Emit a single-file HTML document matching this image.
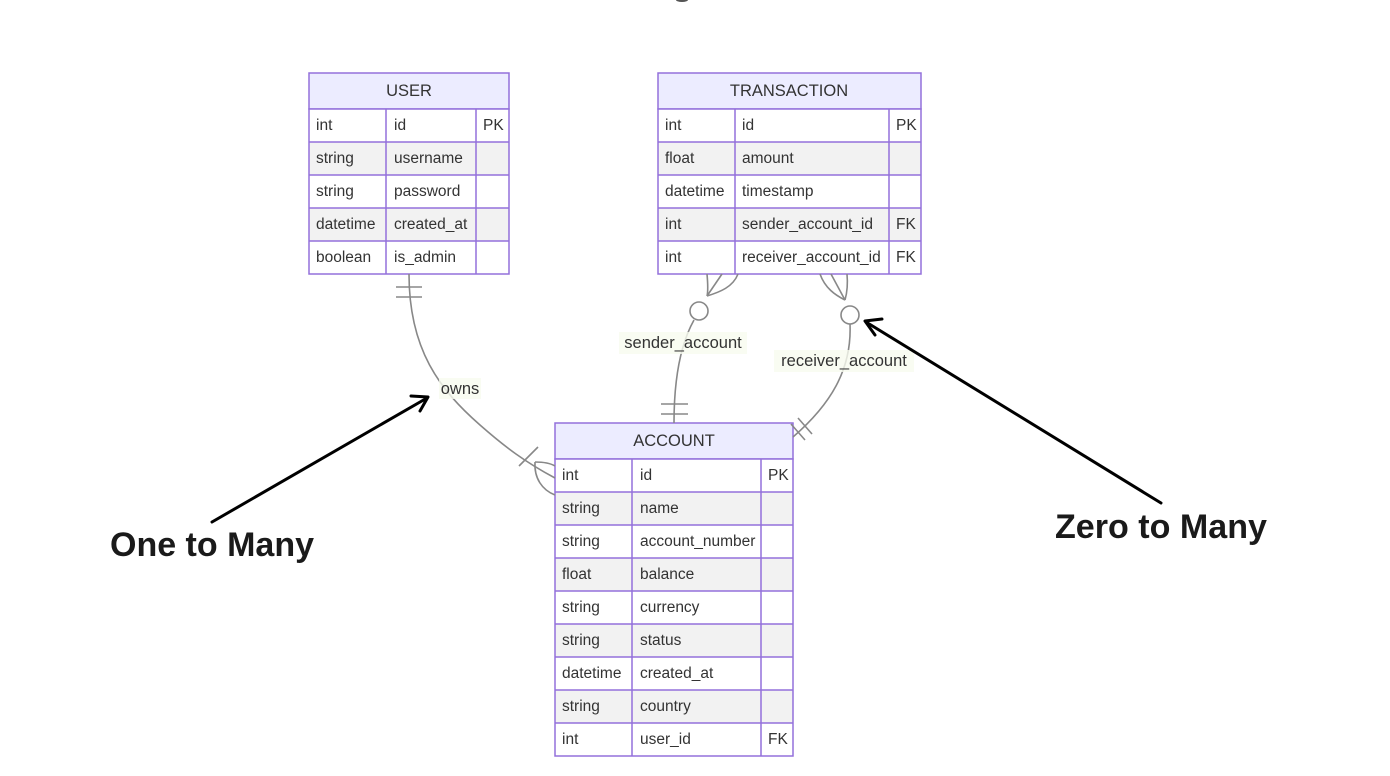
<!DOCTYPE html>
<html><head><meta charset="utf-8"><style>
html,body{margin:0;padding:0;background:#fff;}
svg{display:block;}
.t{font-family:"Liberation Sans","DejaVu Sans",sans-serif;font-size:15.5px;fill:#333;}
.h{font-family:"Liberation Sans","DejaVu Sans",sans-serif;font-size:16.5px;fill:#333;text-anchor:middle;}
.lbl{font-family:"Liberation Sans","DejaVu Sans",sans-serif;font-size:16.5px;fill:#333;text-anchor:middle;}
.big{font-family:"Liberation Sans","DejaVu Sans",sans-serif;font-size:34px;font-weight:bold;fill:#1a1a1a;}
.ln{stroke:#888;stroke-width:1.6;fill:none;}
</style></head><body>
<svg width="1390" height="776" viewBox="0 0 1390 776" xmlns="http://www.w3.org/2000/svg">
<rect width="1390" height="776" fill="#fff"/>
<ellipse cx="682" cy="0" rx="6" ry="2" fill="#555"/>

<!-- USER -->
<g>
<rect x="309" y="73" width="200" height="36" fill="#ececff" stroke="#9370db" stroke-width="1.5"/>
<text class="h" x="409" y="96">USER</text>
<rect x="309" y="109" width="200" height="33" fill="#fff"/>
<rect x="309" y="142" width="200" height="33" fill="#f2f2f2"/>
<rect x="309" y="175" width="200" height="33" fill="#fff"/>
<rect x="309" y="208" width="200" height="33" fill="#f2f2f2"/>
<rect x="309" y="241" width="200" height="33" fill="#fff"/>
<g stroke="#9370db" stroke-width="1.5" fill="none">
<rect x="309" y="109" width="200" height="165"/>
<line x1="309" y1="142" x2="509" y2="142"/><line x1="309" y1="175" x2="509" y2="175"/>
<line x1="309" y1="208" x2="509" y2="208"/><line x1="309" y1="241" x2="509" y2="241"/>
<line x1="386" y1="109" x2="386" y2="274"/><line x1="476" y1="109" x2="476" y2="274"/>
</g>
<text class="t" x="316" y="130">int</text><text class="t" x="394" y="130">id</text><text class="t" x="483" y="130">PK</text>
<text class="t" x="316" y="163">string</text><text class="t" x="394" y="163">username</text>
<text class="t" x="316" y="196">string</text><text class="t" x="394" y="196">password</text>
<text class="t" x="316" y="229">datetime</text><text class="t" x="394" y="229">created_at</text>
<text class="t" x="316" y="262">boolean</text><text class="t" x="394" y="262">is_admin</text>
</g>

<!-- TRANSACTION -->
<g>
<rect x="658" y="73" width="263" height="36" fill="#ececff" stroke="#9370db" stroke-width="1.5"/>
<text class="h" x="789" y="96">TRANSACTION</text>
<rect x="658" y="109" width="263" height="33" fill="#fff"/>
<rect x="658" y="142" width="263" height="33" fill="#f2f2f2"/>
<rect x="658" y="175" width="263" height="33" fill="#fff"/>
<rect x="658" y="208" width="263" height="33" fill="#f2f2f2"/>
<rect x="658" y="241" width="263" height="33" fill="#fff"/>
<g stroke="#9370db" stroke-width="1.5" fill="none">
<rect x="658" y="109" width="263" height="165"/>
<line x1="658" y1="142" x2="921" y2="142"/><line x1="658" y1="175" x2="921" y2="175"/>
<line x1="658" y1="208" x2="921" y2="208"/><line x1="658" y1="241" x2="921" y2="241"/>
<line x1="735" y1="109" x2="735" y2="274"/><line x1="889" y1="109" x2="889" y2="274"/>
</g>
<text class="t" x="665" y="130">int</text><text class="t" x="742" y="130">id</text><text class="t" x="896" y="130">PK</text>
<text class="t" x="665" y="163">float</text><text class="t" x="742" y="163">amount</text>
<text class="t" x="665" y="196">datetime</text><text class="t" x="742" y="196">timestamp</text>
<text class="t" x="665" y="229">int</text><text class="t" x="742" y="229">sender_account_id</text><text class="t" x="896" y="229">FK</text>
<text class="t" x="665" y="262">int</text><text class="t" x="742" y="262">receiver_account_id</text><text class="t" x="896" y="262">FK</text>
</g>

<!-- ACCOUNT -->
<g>
<rect x="555" y="423" width="238" height="36" fill="#ececff" stroke="#9370db" stroke-width="1.5"/>
<text class="h" x="674" y="446">ACCOUNT</text>
<rect x="555" y="459" width="238" height="33" fill="#fff"/>
<rect x="555" y="492" width="238" height="33" fill="#f2f2f2"/>
<rect x="555" y="525" width="238" height="33" fill="#fff"/>
<rect x="555" y="558" width="238" height="33" fill="#f2f2f2"/>
<rect x="555" y="591" width="238" height="33" fill="#fff"/>
<rect x="555" y="624" width="238" height="33" fill="#f2f2f2"/>
<rect x="555" y="657" width="238" height="33" fill="#fff"/>
<rect x="555" y="690" width="238" height="33" fill="#f2f2f2"/>
<rect x="555" y="723" width="238" height="33" fill="#fff"/>
<g stroke="#9370db" stroke-width="1.5" fill="none">
<rect x="555" y="459" width="238" height="297"/>
<line x1="555" y1="492" x2="793" y2="492"/><line x1="555" y1="525" x2="793" y2="525"/>
<line x1="555" y1="558" x2="793" y2="558"/><line x1="555" y1="591" x2="793" y2="591"/>
<line x1="555" y1="624" x2="793" y2="624"/><line x1="555" y1="657" x2="793" y2="657"/>
<line x1="555" y1="690" x2="793" y2="690"/><line x1="555" y1="723" x2="793" y2="723"/>
<line x1="632" y1="459" x2="632" y2="756"/><line x1="761" y1="459" x2="761" y2="756"/>
</g>
<text class="t" x="562" y="480">int</text><text class="t" x="640" y="480">id</text><text class="t" x="768" y="480">PK</text>
<text class="t" x="562" y="513">string</text><text class="t" x="640" y="513">name</text>
<text class="t" x="562" y="546">string</text><text class="t" x="640" y="546">account_number</text>
<text class="t" x="562" y="579">float</text><text class="t" x="640" y="579">balance</text>
<text class="t" x="562" y="612">string</text><text class="t" x="640" y="612">currency</text>
<text class="t" x="562" y="645">string</text><text class="t" x="640" y="645">status</text>
<text class="t" x="562" y="678">datetime</text><text class="t" x="640" y="678">created_at</text>
<text class="t" x="562" y="711">string</text><text class="t" x="640" y="711">country</text>
<text class="t" x="562" y="744">int</text><text class="t" x="640" y="744">user_id</text><text class="t" x="768" y="744">FK</text>
</g>

<!-- owns -->
<path class="ln" d="M409,274 C409,350 440,390 480,425 C505,447 525,462 555,478"/>
<line class="ln" x1="396" y1="287" x2="422" y2="287"/>
<line class="ln" x1="396" y1="297" x2="422" y2="297"/>
<line class="ln" x1="519" y1="466" x2="538" y2="447"/>
<path class="ln" d="M535,462 C542,462 550,463 555,466"/>
<path class="ln" d="M535,462 C534,478 542,490 555,495"/>
<rect x="439" y="378" width="42" height="21" fill="#f8fbef" opacity="0.8"/>
<text class="lbl" x="460" y="394">owns</text>

<!-- sender -->
<path class="ln" d="M707,274 C708,285 708,292 707,296"/>
<path class="ln" d="M738,274 C733,287 720,292 707,296"/>
<path class="ln" d="M722,274 L707,296"/>
<circle cx="699" cy="311" r="9" fill="#fff" stroke="#888" stroke-width="1.6"/>
<path class="ln" d="M694,320 C680,345 674,380 674,423"/>
<line class="ln" x1="661" y1="404" x2="688" y2="404"/>
<line class="ln" x1="661" y1="414" x2="688" y2="414"/>
<rect x="619" y="332" width="128" height="22" fill="#f8fbef" opacity="0.8"/>
<text class="lbl" x="683" y="348">sender_account</text>

<!-- receiver -->
<path class="ln" d="M820,274 C825,288 835,295 845,300"/>
<path class="ln" d="M847,274 C848,285 847,293 845,300"/>
<path class="ln" d="M831,274 L845,300"/>
<circle cx="850" cy="315" r="9" fill="#fff" stroke="#888" stroke-width="1.6"/>
<path class="ln" d="M850,324 C852,370 830,405 793,437"/>
<line class="ln" x1="791" y1="424" x2="805" y2="440"/>
<line class="ln" x1="798" y1="418" x2="812" y2="434"/>
<rect x="774" y="350" width="140" height="22" fill="#f8fbef" opacity="0.8"/>
<text class="lbl" x="844" y="366">receiver_account</text>

<!-- annotation arrows -->
<g stroke="#000" stroke-width="3" fill="none" stroke-linecap="round" stroke-linejoin="round">
<line x1="212" y1="522" x2="427" y2="398"/>
<polyline points="411,396 428,397 420,411"/>
<line x1="1161" y1="503" x2="866" y2="322"/>
<polyline points="875,335 865,321 882,319"/>
</g>
<text class="big" x="110" y="556" textLength="204" lengthAdjust="spacingAndGlyphs">One to Many</text>
<text class="big" x="1055" y="538" textLength="212" lengthAdjust="spacingAndGlyphs">Zero to Many</text>
</svg>
</body></html>
